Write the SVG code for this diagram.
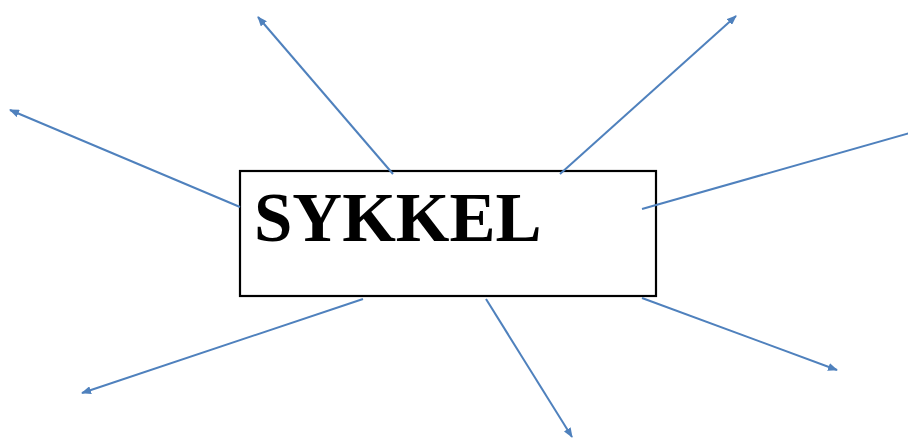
<svg xmlns="http://www.w3.org/2000/svg" width="908" height="439" viewBox="0 0 908 439">
<style>
.box{fill:#fff;stroke:#000;stroke-width:2.2}
.lbl{font-family:"Liberation Serif","Times New Roman",serif;font-weight:bold;font-size:69px;fill:#000}
.con{stroke:#4F81BD;stroke-width:2;fill:none;marker-end:url(#ah)}
</style>
<defs>
<marker id="ah" markerUnits="userSpaceOnUse" markerWidth="10" markerHeight="8" refX="9" refY="4" orient="auto">
<path d="M0,0 L10,4 L0,8 Z" fill="#4F81BD"/>
</marker>
</defs>
<rect width="908" height="439" fill="#fff"/>
<g id="sykkel">
<rect class="box" x="240" y="171" width="416" height="125"/>
<text class="lbl" x="254" y="241">SYKKEL</text>
</g>
<g id="connectors">
<line class="con" x1="393" y1="174" x2="258" y2="17"/>
<line class="con" x1="560" y1="174" x2="736" y2="16"/>
<line class="con" x1="240" y1="207" x2="10" y2="110"/>
<line class="con" x1="642" y1="209" x2="910" y2="133" style="marker-end:none"/>
<line class="con" x1="363" y1="299" x2="82" y2="393"/>
<line class="con" x1="486" y1="299" x2="572" y2="437"/>
<line class="con" x1="642" y1="298" x2="837" y2="370"/>
</g>
</svg>
